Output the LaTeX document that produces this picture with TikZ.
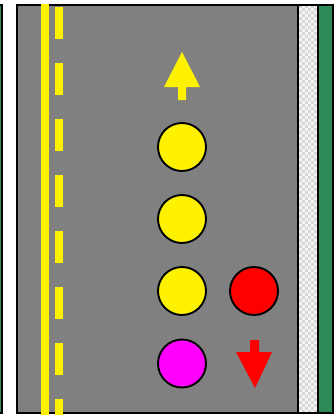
\documentclass[tikz,border=0pt]{standalone}
\usetikzlibrary{shapes.geometric}
\definecolor{road}{HTML}{808080}
\definecolor{verge}{HTML}{2E8B57}
\definecolor{walkA}{HTML}{F4F4F4}
\definecolor{walkB}{HTML}{D6D6D6}
\definecolor{mag}{HTML}{FF00FF}
\tikzset{
  car/.style={circle, draw=black, line width=1.9pt, minimum size=48pt, inner sep=0pt},
  edge/.style={draw=black, line width=2pt},
  marking/.style={fill=yellow},
}
\begin{document}
\begin{tikzpicture}[x=1pt,y=-1pt]
\useasboundingbox (0,0) rectangle (334,415);
% left verge (partially visible)
\fill[verge] (-5,5) rectangle (2,413);
\draw[edge] (-5,5) -- (2,5) -- (2,413) -- (-5,413);
% road
\fill[road] (17,5) rectangle (298,413);
\draw[edge] (17,5) rectangle (298,413);
% solid yellow line
\fill[marking] (41,4) rectangle (49,415);
% dashed yellow line
\foreach \y in {7,63,...,399} {
  \pgfmathsetmacro{\ye}{min(\y+32,415)}
  \fill[marking] (55,\y) rectangle (63,\ye);
}
% sidewalk
\fill[walkA] (299,5) rectangle (318,413);
\foreach \i in {0,...,5} {
  \foreach \j in {0,...,135} {
    \pgfmathtruncatemacro{\p}{mod(\i+\j,2)}
    \ifnum\p=0
      \fill[walkB] (299+3*\i,5+3*\j) rectangle ++(3,3);
    \fi
  }
}
\draw[edge] (298,5) rectangle (318,413);
% right verge
\fill[verge] (318,5) rectangle (333,413);
\draw[edge] (318,5) rectangle (333,413);
% up arrow
\fill[yellow] (182,52) -- (200,87) -- (186,87) -- (186,100) -- (178,100) -- (178,87) -- (164,87) -- cycle;
% down arrow
\fill[red] (255,388) -- (272,352) -- (259,352) -- (259,340) -- (250,340) -- (250,352) -- (236,352) -- cycle;
% vehicles
\node[car, fill=yellow] (y1) at (182,147) {};
\node[car, fill=yellow] (y2) at (182,219) {};
\node[car, fill=yellow] (y3) at (182,291) {};
\node[car, fill=mag] (m1) at (182,363.5) {};
\node[car, fill=red] (r1) at (254,291) {};
\end{tikzpicture}
\end{document}
